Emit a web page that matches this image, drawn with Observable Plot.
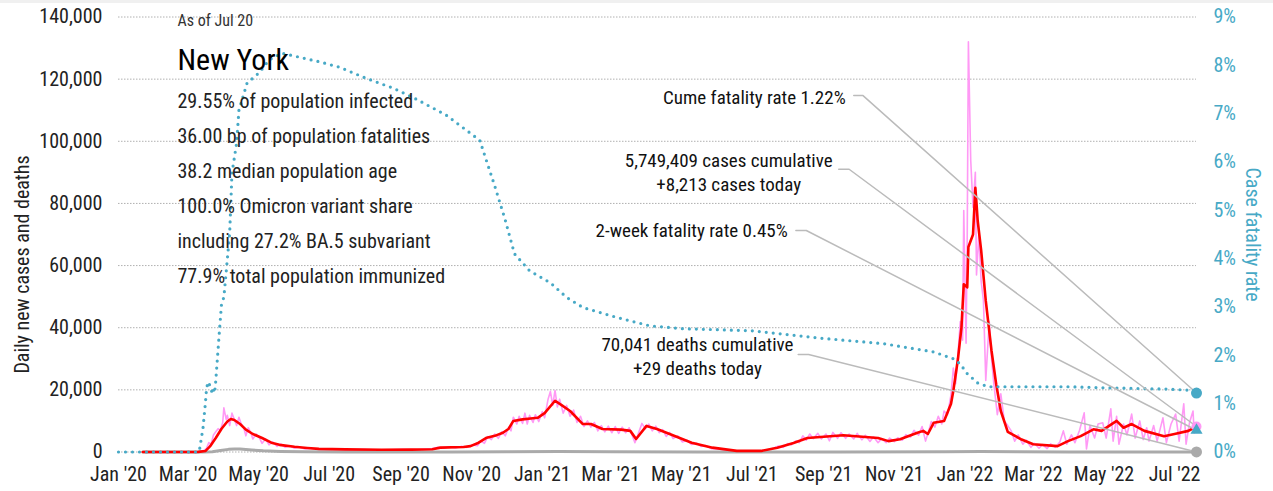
<!DOCTYPE html>
<html><head><meta charset="utf-8">
<script src="https://cdn.jsdelivr.net/npm/d3@7"></script>
<script src="https://cdn.jsdelivr.net/npm/@observablehq/plot@0.6"></script>
<style>
body{margin:0;background:#fff;}
#band{height:3px;background:#f0f0f0;}
</style></head><body><div id="band"></div><div id="chart"></div>
<script>
// ---------- data ----------
const xTickDates = ["2020-01-01","2020-03-01","2020-05-01","2020-07-01","2020-09-01","2020-11-01",
  "2021-01-01","2021-03-01","2021-05-01","2021-07-01","2021-09-01","2021-11-01",
  "2022-01-01","2022-03-01","2022-05-01","2022-07-01"];
const yTicks = [0,20000,40000,60000,80000,100000,120000,140000];
const rateTicks = [0,1,2,3,4,5,6,7,8,9];

const dailyCases = [["2020-01-22",0],["2020-03-01",0],["2020-03-10",40],["2020-03-14",250],["2020-03-17",1200],["2020-03-19",3000],["2020-03-21",2500],["2020-03-23",5500],["2020-03-25",6500],["2020-03-27",7500],["2020-03-29",7000],["2020-03-31",9500],["2020-04-01",14200],["2020-04-03",10500],["2020-04-04",11800],["2020-04-06",8500],["2020-04-08",12500],["2020-04-10",10500],["2020-04-12",8500],["2020-04-14",11200],["2020-04-16",9000],["2020-04-18",8000],["2020-04-20",5200],["2020-04-22",7800],["2020-04-24",6500],["2020-04-26",4200],["2020-04-29",5800],["2020-05-02",4300],["2020-05-04",2800],["2020-05-07",4200],["2020-05-10",2300],["2020-05-13",3300],["2020-05-17",1800],["2020-05-20",2600],["2020-05-24",1500],["2020-05-28",2000],["2020-06-01",1200],["2020-06-05",1600],["2020-06-10",1000],["2020-06-15",1200],["2020-06-22",800],["2020-07-01",900],["2020-07-15",700],["2020-08-01",800],["2020-08-15",600],["2020-09-01",800],["2020-09-15",700],["2020-09-28",1100],["2020-10-03",1500],["2020-10-08",1200],["2020-10-13",1700],["2020-10-18",1300],["2020-10-23",1800],["2020-10-28",1500],["2020-11-02",2300],["2020-11-06",2000],["2020-11-09",3500],["2020-11-12",2800],["2020-11-15",5000],["2020-11-18",4000],["2020-11-21",5800],["2020-11-24",4400],["2020-11-27",6500],["2020-11-30",5200],["2020-12-03",8000],["2020-12-05",6800],["2020-12-07",11200],["2020-12-10",9000],["2020-12-12",11500],["2020-12-15",9200],["2020-12-17",12500],["2020-12-19",9000],["2020-12-21",11800],["2020-12-24",9500],["2020-12-26",12000],["2020-12-29",9800],
["2021-01-01",13000],["2021-01-03",11000],["2021-01-06",17000],["2021-01-08",19500],["2021-01-10",15000],["2021-01-12",19800],["2021-01-14",14500],["2021-01-16",17000],["2021-01-19",12500],["2021-01-22",15000],["2021-01-25",11500],["2021-01-28",13500],["2021-01-31",9500],["2021-02-03",11500],["2021-02-06",8200],["2021-02-09",10000],["2021-02-12",8000],["2021-02-15",9500],["2021-02-18",6800],["2021-02-21",8500],["2021-02-24",6500],["2021-02-27",8300],["2021-03-02",6200],["2021-03-05",8200],["2021-03-08",6000],["2021-03-11",8000],["2021-03-14",6200],["2021-03-17",7800],["2021-03-20",5000],["2021-03-22",3000],["2021-03-25",6000],["2021-03-28",9200],["2021-03-31",7500],["2021-04-03",9000],["2021-04-06",6800],["2021-04-09",8300],["2021-04-12",6200],["2021-04-15",7200],["2021-04-18",5000],["2021-04-21",6300],["2021-04-24",4300],["2021-04-28",5200],["2021-05-02",3200],["2021-05-06",3800],["2021-05-10",2400],["2021-05-14",2900],["2021-05-18",1800],["2021-05-22",2100],["2021-05-27",1100],["2021-06-03",900],["2021-06-10",500],["2021-06-18",300],["2021-06-28",250],["2021-07-08",400],["2021-07-15",700],["2021-07-20",1300],["2021-07-24",1900],["2021-07-28",1500],["2021-08-01",2700],["2021-08-04",2300],["2021-08-08",3600],["2021-08-11",3000],["2021-08-14",5200],["2021-08-17",3800],["2021-08-20",5800],["2021-08-23",4300],["2021-08-27",6000],["2021-08-30",4200],["2021-09-03",5800],["2021-09-06",3600],["2021-09-09",6300],["2021-09-13",4400],["2021-09-16",6200],["2021-09-20",4400],["2021-09-23",5800],["2021-09-27",4200],["2021-09-30",6000],["2021-10-04",3900],["2021-10-07",5400],["2021-10-11",3400],["2021-10-14",4900],["2021-10-18",3000],["2021-10-21",4300],["2021-10-25",3000],["2021-10-28",4500],["2021-11-01",3300],["2021-11-04",4600],["2021-11-08",3800],["2021-11-11",5600],["2021-11-15",4800],["2021-11-18",7000],["2021-11-22",5400],["2021-11-25",8200],["2021-11-28",3500],["2021-12-01",7200],["2021-12-03",9800],["2021-12-06",8000],["2021-12-09",11500],["2021-12-12",9000],["2021-12-14",13200],["2021-12-17",12000],["2021-12-20",18500],["2021-12-22",27000],["2021-12-24",22000],["2021-12-26",31600],["2021-12-28",42000],["2021-12-30",36000],["2021-12-31",77700],["2022-01-02",35000],["2022-01-03",70000],["2022-01-04",132000],["2022-01-06",94000],["2022-01-08",78700],["2022-01-10",90000],["2022-01-11",57000],["2022-01-13",70000],["2022-01-15",55000],["2022-01-17",48700],["2022-01-19",23000],["2022-01-22",42000],["2022-01-24",30000],["2022-01-26",21800],["2022-01-29",12000],["2022-02-01",18700],["2022-02-04",10000],["2022-02-07",8500],["2022-02-10",6800],["2022-02-13",3500],["2022-02-16",5500],["2022-02-20",2500],["2022-02-23",3800],["2022-02-27",1500],["2022-03-02",2800],["2022-03-06",1200],["2022-03-09",2400],["2022-03-13",1100],["2022-03-16",2600],["2022-03-20",1500],["2022-03-24",3200],["2022-03-27",6800],["2022-03-30",2500],["2022-04-03",5500],["2022-04-06",3000],["2022-04-10",7000],["2022-04-14",12600],["2022-04-16",1000],["2022-04-19",8500],["2022-04-23",4500],["2022-04-26",9000],["2022-04-30",9400],["2022-05-03",4500],["2022-05-07",13900],["2022-05-09",3500],["2022-05-12",11500],["2022-05-14",2500],["2022-05-18",9000],["2022-05-21",5500],["2022-05-25",12200],["2022-05-28",4500],["2022-06-01",10000],["2022-06-04",4000],["2022-06-07",7800],["2022-06-09",3500],["2022-06-13",8500],["2022-06-16",3500],["2022-06-21",11000],["2022-06-24",3000],["2022-06-28",9000],["2022-07-02",12200],["2022-07-05",3500],["2022-07-09",15500],["2022-07-11",2500],["2022-07-14",9500],["2022-07-17",13200],["2022-07-18",6100],["2022-07-20",8213]];

const avgCases = [["2020-01-22",0],["2020-03-01",0],["2020-03-10",50],["2020-03-16",300],["2020-03-20",1800],["2020-03-25",4500],["2020-03-30",7500],["2020-04-04",9800],["2020-04-07",10600],["2020-04-10",10300],["2020-04-15",9000],["2020-04-20",7200],["2020-04-26",5800],["2020-05-04",4500],["2020-05-12",3000],["2020-05-19",2300],["2020-06-01",1700],["2020-06-12",1300],["2020-06-22",1000],["2020-07-15",850],["2020-08-15",700],["2020-09-10",750],["2020-09-28",900],["2020-10-05",1400],["2020-10-25",1600],["2020-10-31",1900],["2020-11-07",3000],["2020-11-14",4600],["2020-11-21",5200],["2020-11-28",6200],["2020-12-03",7500],["2020-12-07",10000],["2020-12-15",10500],["2020-12-22",10800],["2020-12-28",11000],["2021-01-03",12500],["2021-01-12",16500],["2021-01-18",15000],["2021-01-25",13200],["2021-02-05",9000],["2021-02-12",9000],["2021-02-22",7400],["2021-03-10",7200],["2021-03-18",6800],["2021-03-23",4200],["2021-04-01",8400],["2021-04-10",7400],["2021-04-21",5800],["2021-05-10",3000],["2021-05-28",1400],["2021-06-18",350],["2021-07-09",350],["2021-07-23",1400],["2021-08-06",2900],["2021-08-18",4500],["2021-09-18",5400],["2021-10-18",4500],["2021-10-27",3500],["2021-11-06",4100],["2021-11-21",6200],["2021-11-26",6800],["2021-11-30",5800],["2021-12-05",9400],["2021-12-14",10000],["2021-12-20",15500],["2021-12-22",19700],["2021-12-26",30000],["2021-12-29",40000],["2021-12-31",54000],["2022-01-03",53000],["2022-01-04",66000],["2022-01-08",70000],["2022-01-10",85000],["2022-01-11",80000],["2022-01-12",74500],["2022-01-15",65000],["2022-01-19",48700],["2022-01-24",32500],["2022-01-28",21800],["2022-02-01",13200],["2022-02-07",6500],["2022-02-19",4000],["2022-03-01",2500],["2022-03-22",1900],["2022-03-31",3500],["2022-04-11",5100],["2022-04-22",7300],["2022-04-29",6800],["2022-05-12",10000],["2022-05-18",7800],["2022-05-25",9000],["2022-06-05",6800],["2022-06-22",5100],["2022-07-01",5800],["2022-07-13",6800],["2022-07-18",7800],["2022-07-20",7500]];

const avgDeaths = [["2020-01-22",0],["2020-03-14",0],["2020-03-22",100],["2020-03-29",450],["2020-04-05",850],["2020-04-10",1000],["2020-04-15",950],["2020-04-25",650],["2020-05-05",400],["2020-05-20",200],["2020-06-10",80],["2020-07-15",20],["2020-10-15",15],["2020-12-01",60],["2021-01-15",170],["2021-03-01",110],["2021-05-15",30],["2021-07-15",8],["2021-09-15",25],["2021-12-15",50],["2022-01-15",180],["2022-02-15",60],["2022-04-01",15],["2022-07-20",25]];

const fatalityRate = [["2020-01-01",0],["2020-03-10",0],["2020-03-11",0.05],["2020-03-12",0.2],["2020-03-13",0.35],["2020-03-14",0.5],["2020-03-15",0.75],["2020-03-16",1.0],["2020-03-17",1.3],["2020-03-18",1.42],["2020-03-19",1.45],["2020-03-20",1.35],["2020-03-21",1.3],["2020-03-22",1.2],["2020-03-23",1.28],["2020-03-24",1.22],["2020-03-25",1.47],["2020-03-26",1.8],["2020-03-28",2.45],["2020-03-30",3.07],["2020-04-01",3.2],["2020-04-06",4.52],["2020-04-08",5.77],["2020-04-12",6.39],["2020-04-14",7.07],["2020-04-21",7.63],["2020-05-02",7.86],["2020-05-10",8.11],["2020-05-21",8.25],["2020-06-05",8.17],["2020-06-23",8.07],["2020-07-10",7.96],["2020-08-02",7.73],["2020-08-25",7.53],["2020-09-11",7.34],["2020-10-10",6.97],["2020-11-08",6.45],["2020-11-21",5.5],["2020-11-30",4.8],["2020-12-08",4.1],["2020-12-21",3.75],["2021-01-08",3.5],["2021-01-22",3.2],["2021-02-05",2.99],["2021-03-07",2.78],["2021-04-04",2.61],["2021-05-03",2.55],["2021-06-30",2.51],["2021-08-27",2.36],["2021-10-23",2.24],["2021-12-05",2.07],["2021-12-22",1.93],["2021-12-28",1.82],["2022-01-03",1.62],["2022-01-12",1.43],["2022-01-21",1.35],["2022-03-31",1.35],["2022-04-29",1.33],["2022-06-26",1.3],["2022-07-20",1.27]];

const asOf = "As of Jul 20";
const placeName = "New York";
const statLines = ["29.55% of population infected","36.00 bp of population fatalities","38.2 median population age","100.0% Omicron variant share","including 27.2% BA.5 subvariant","77.9% total population immunized"];

const lastDate = "2022-07-20";
const cumeRate = 1.22, twoWeekRate = 0.45, casesToday = 8213, deathsToday = 29;

const notes = [
  {text:"Cume fatality rate 1.22%", x:"2021-09-20", y:114100, anchor:"end", l0:"2021-09-27", l1:"2021-10-05", ly:114700, tRate:cumeRate},
  {text:"5,749,409 cases cumulative\n+8,213 cases today", x:"2021-06-11", y:90300, anchor:"middle", l0:"2021-09-14", l1:"2021-09-23", ly:91000, tVal:casesToday},
  {text:"2-week fatality rate 0.45%", x:"2021-08-01", y:71300, anchor:"end", l0:"2021-08-08", l1:"2021-08-17", ly:71300, tRate:twoWeekRate},
  {text:"70,041 deaths cumulative\n+29 deaths today", x:"2021-05-15", y:31000, anchor:"middle", l0:"2021-08-10", l1:"2021-08-19", ly:31400, tVal:deathsToday}
];

// ---------- font choice: the installed condensed sans closest to the reference width ----------
const candidates = [
  ['"Liberation Sans Narrow"','normal'],
  ['"Noto Sans"','condensed'],
  ['"Open Sans"','condensed'],
  ['"Noto Sans"','semi-condensed'],
  ['"Noto Sans"','extra-condensed'],
  ['Roboto','condensed'],
  ['"DejaVu Sans"','condensed']
];
const targetEm = 235 / 21;
function measure([fam, st]) {
  const s = document.createElement("span");
  s.style.cssText = `position:absolute;visibility:hidden;white-space:nowrap;font-size:100px;font-family:${fam},monospace;font-stretch:${st}`;
  s.textContent = statLines[0];
  document.body.appendChild(s);
  const w = s.getBoundingClientRect().width / 100;
  s.remove();
  return w;
}
let best = candidates[candidates.length - 1], bestErr = Infinity;
for (const c of candidates) { const e = Math.abs(measure(c) - targetEm); if (e < bestErr) { bestErr = e; best = c; } }
const FONT = best[0] + ',"DejaVu Sans",sans-serif';
const STRETCH = best[1];

// ---------- chart ----------
const parse = d3.utcParse("%Y-%m-%d");
const Y_MAX = 140000, R_MAX = 9;
const toY = p => p / R_MAX * Y_MAX;
const BLUE = "#47a9c6", PINK = "#ff99f5", RED = "#ff0000", GRAY = "#aaaaaa";
const px = d => parse(d[0]);

const leaderPts = [];
notes.forEach((n, i) => {
  const ty = n.tRate !== undefined ? toY(n.tRate) : n.tVal;
  leaderPts.push({k:i, x:parse(n.l0), y:n.ly}, {k:i, x:parse(n.l1), y:n.ly}, {k:i, x:parse(lastDate), y:ty});
});

const textMarks = [
  Plot.text([asOf], {text:d=>d, frameAnchor:"top-left", dx:59, dy:3.5, lineAnchor:"middle", textAnchor:"start", fontSize:16, fill:"#333"}),
  Plot.text([placeName], {text:d=>d, frameAnchor:"top-left", dx:59, dy:43.5, lineAnchor:"middle", textAnchor:"start", fontSize:30, fill:"#000"}),
  ...statLines.map((s, i) => Plot.text([s], {text:d=>d, frameAnchor:"top-left", dx:59, dy:84.5 + i*35, lineAnchor:"middle", textAnchor:"start", fontSize:20, fill:"#222"}))
];

const chart = Plot.plot({
  width:1273, height:488,
  marginLeft:118, marginRight:77, marginTop:13.5, marginBottom:39.5,
  style:{fontFamily:FONT, fontStretch:STRETCH, fontSize:"20px", color:"#222", background:"#fff", overflow:"visible"},
  x:{type:"utc", domain:[parse("2020-01-01"), parse(lastDate)]},
  y:{domain:[0, Y_MAX]},
  marks:[
    Plot.gridY(yTicks, {stroke:"#b0b0b0", strokeOpacity:1, strokeDasharray:"1.5,1.5"}),
    Plot.axisX(xTickDates.map(parse), {tickSize:0, tickPadding:15, tickFormat:d3.utcFormat("%b '%y"), label:null, fontSize:20, fill:"#222"}),
    Plot.axisY(yTicks, {tickSize:0, tickPadding:16, tickFormat:d3.format(","), label:null, fontSize:20, fill:"#222"}),
    Plot.axisY(rateTicks.map(toY), {anchor:"right", tickSize:0, tickPadding:17, tickFormat:d => Math.round(d / Y_MAX * R_MAX) + "%", label:null, fontSize:20, fill:BLUE}),
    Plot.text(["Daily new cases and deaths"], {text:d=>d, frameAnchor:"left", dx:-96, dy:30, rotate:-90, textAnchor:"middle", lineAnchor:"middle", fontSize:20, fill:"#222"}),
    Plot.text(["Case fatality rate"], {text:d=>d, frameAnchor:"right", dx:56, rotate:90, textAnchor:"middle", lineAnchor:"middle", fontSize:20, fill:BLUE}),
    Plot.line(dailyCases, {x:px, y:d=>d[1], stroke:PINK, strokeWidth:1.6}),
    Plot.line(avgDeaths, {x:px, y:d=>d[1], stroke:GRAY, strokeWidth:3}),
    Plot.line(avgCases, {x:px, y:d=>d[1], stroke:RED, strokeWidth:2.6}),
    Plot.line(fatalityRate, {x:px, y:d=>toY(d[1]), stroke:BLUE, strokeWidth:3.2, strokeDasharray:"0,7", strokeLinecap:"round"}),
    Plot.line(leaderPts, {x:"x", y:"y", z:"k", stroke:"#bbbbbb", strokeWidth:1.5}),
    Plot.text(notes.filter(n => n.anchor === "end"), {x:d=>parse(d.x), y:"y", text:"text", textAnchor:"end", fontSize:19, fill:"#111"}),
    Plot.text(notes.filter(n => n.anchor === "middle"), {x:d=>parse(d.x), y:"y", text:"text", textAnchor:"middle", lineHeight:1.25, fontSize:19, fill:"#111"}),
    Plot.dot([[lastDate, casesToday]], {x:px, y:d=>d[1], r:5, fill:PINK}),
    Plot.dot([[lastDate, deathsToday]], {x:px, y:d=>d[1], r:5.5, fill:GRAY}),
    Plot.dot([[lastDate, twoWeekRate]], {x:px, y:d=>toY(d[1]), r:4.5, symbol:"triangle", fill:BLUE}),
    Plot.dot([[lastDate, cumeRate]], {x:px, y:d=>toY(d[1]), r:5.5, fill:BLUE}),
    ...textMarks
  ]
});
document.getElementById("chart").appendChild(chart);
</script></body></html>
